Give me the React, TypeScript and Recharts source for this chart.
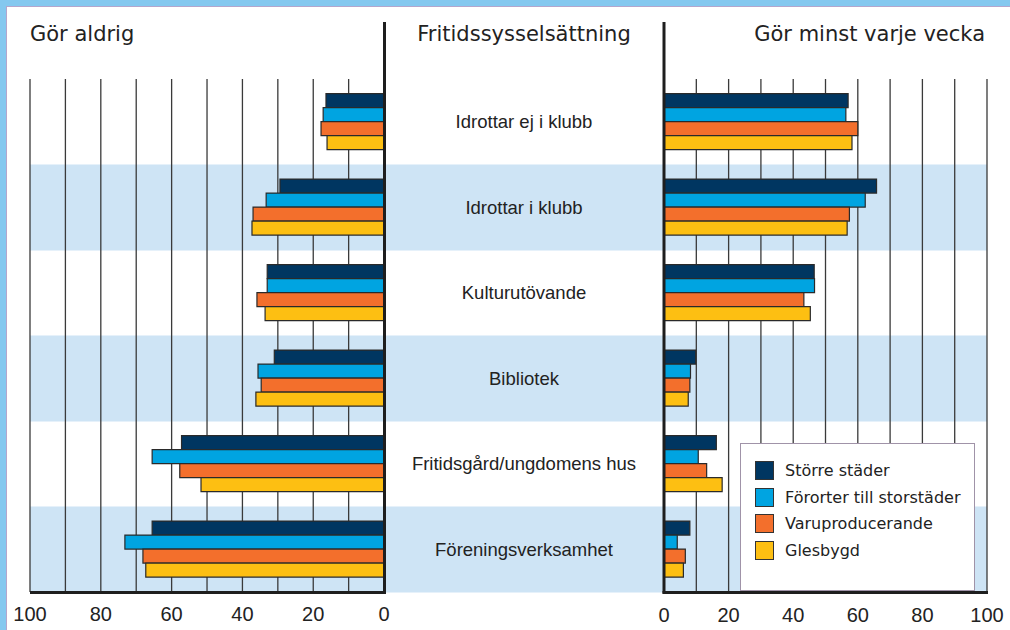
import {
  ComposedChart, Bar, XAxis, YAxis, ReferenceLine,
} from 'recharts'

const CATEGORIES = [
  'Idrottar ej i klubb',
  'Idrottar i klubb',
  'Kulturutövande',
  'Bibliotek',
  'Fritidsgård/ungdomens hus',
  'Föreningsverksamhet',
]
const SERIES_NAMES = ['Större städer', 'Förorter till storstäder', 'Varuproducerande', 'Glesbygd']
const SERIES_COLORS = ['#003661', '#00A4E1', '#F36F2C', '#FDBF12']

// "Gör aldrig" (%)
const NEVER_STORRE = [16.4, 29.4, 33, 31, 57.2, 65.5]
const NEVER_FORORTER = [17.2, 33.3, 33, 35.6, 65.5, 73.2]
const NEVER_VARU = [17.8, 37, 35.9, 34.7, 57.7, 68.1]
const NEVER_GLES = [16.1, 37.3, 33.6, 36.2, 51.7, 67.3]

// "Gör minst varje vecka" (%)
const WEEKLY_STORRE = [57, 65.8, 46.5, 9.8, 16.2, 8]
const WEEKLY_FORORTER = [56.3, 62.3, 46.6, 8.2, 10.6, 4.1]
const WEEKLY_VARU = [60, 57.4, 43.3, 8, 13.2, 6.6]
const WEEKLY_GLES = [58.2, 56.7, 45.3, 7.5, 18, 6]

const GRID_TICKS = [0, 10, 20, 30, 40, 50, 60, 70, 80, 90, 100]
const BANDED = [CATEGORIES[1], CATEGORIES[3], CATEGORIES[5]]

const NEVER = [NEVER_STORRE, NEVER_FORORTER, NEVER_VARU, NEVER_GLES]
const WEEKLY = [WEEKLY_STORRE, WEEKLY_FORORTER, WEEKLY_VARU, WEEKLY_GLES]

const data = CATEGORIES.map((name, i) => {
  const row: Record<string, string | number> = { name, band: BANDED.includes(name) ? 1 : 0 }
  NEVER.forEach((s, k) => { row['n' + k] = s[i] })
  WEEKLY.forEach((s, k) => { row['w' + k] = s[i] })
  return row
})

// both value axes share the full plot width; domains put 0 under each half
const LEFT_DOMAIN = [-170.3, 100]
const RIGHT_DOMAIN = [-196.3, 100]
const CENTER_X = 524
const TEXT = '#222'
const BAND = '#CEE4F5'
const GRID = '#3a3a3a'
const BAR_STROKE = '#2a2a2a'

// plot rect for the layers whose axes are all hidden
const PLAIN_MARGIN = { top: 79, right: 23, bottom: 38, left: 30 }

const tickFmt = (v: number) => (v % 20 === 0 ? String(v) : '')
const axisTick = { fill: TEXT, fontSize: 20, fontFamily: '"Liberation Sans", Arial, sans-serif' }

function CenterTick({ y, payload }: any) {
  return (
    <text x={CENTER_X} y={y} textAnchor="middle" dominantBaseline="central"
      fill={TEXT} fontSize={18.5} fontFamily='"Liberation Sans", Arial, sans-serif'>
      {payload.value}
    </text>
  )
}

function LegendBox() {
  return (
    <div style={{
      position: 'absolute', left: 740, top: 443, width: 233, height: 133,
      border: '1.5px solid #A093A8', background: '#fff', paddingTop: 13, boxSizing: 'content-box',
    }}>
      {SERIES_NAMES.map((name, i) => (
        <div key={name} style={{ display: 'flex', alignItems: 'center', height: 26.7 }}>
          <div style={{
            width: 17, height: 17, marginLeft: 14, background: SERIES_COLORS[i],
            border: '1px solid #333',
          }} />
          <span style={{
            marginLeft: 11, fontFamily: '"DejaVu Sans", sans-serif', fontSize: 16, color: TEXT,
          }}>{name}</span>
        </div>
      ))}
    </div>
  )
}

// layer 1: alternating row bands, one full-width bar per banded category
function BandLayer() {
  return (
    <ComposedChart width={1010} height={630} data={data} layout="vertical"
      margin={PLAIN_MARGIN} barCategoryGap={0} barGap={0}>
      <XAxis type="number" domain={[0, 1]} allowDataOverflow hide />
      <YAxis type="category" dataKey="name" hide />
      <Bar dataKey="band" fill={BAND} stroke="none" legendType="none" isAnimationActive={false} />
    </ComposedChart>
  )
}

// layer 2: vertical grid lines of both halves
function GridLayer() {
  return (
    <ComposedChart width={1010} height={630} data={data} layout="vertical" margin={PLAIN_MARGIN}>
      <XAxis xAxisId="l" type="number" domain={LEFT_DOMAIN} reversed allowDataOverflow hide />
      <XAxis xAxisId="r" type="number" domain={RIGHT_DOMAIN} allowDataOverflow hide />
      <YAxis yAxisId="l" type="category" dataKey="name" hide />
      <YAxis yAxisId="r" type="category" dataKey="name" hide />
      {GRID_TICKS.slice(1).map((v) => (
        <ReferenceLine key={'gl' + v} xAxisId="l" yAxisId="l" x={v} stroke={GRID} strokeWidth={1.3} />
      ))}
      {GRID_TICKS.slice(1).map((v) => (
        <ReferenceLine key={'gr' + v} xAxisId="r" yAxisId="r" x={v} stroke={GRID} strokeWidth={1.3} />
      ))}
    </ComposedChart>
  )
}

export default function App() {
  const titleFont = '"DejaVu Sans", Verdana, sans-serif'
  const layer = { position: 'absolute' as const, left: 0, top: 0 }
  return (
    <div style={{ position: 'absolute', left: 0, top: 0, width: 1010, height: 630, background: '#fff', overflow: 'hidden' }}>
      <div style={{ position: 'absolute', left: 0, top: 0, width: 1010, height: 6, background: '#84C8EF' }} />
      <div style={{ position: 'absolute', left: 0, top: 0, width: 6, height: 630, background: '#84C8EF' }} />
      <div style={{ position: 'absolute', left: 6, top: 6, width: 1004, height: 1, background: '#B4A6CC' }} />
      <div style={{ position: 'absolute', left: 6, top: 6, width: 1, height: 624, background: '#B4A6CC' }} />

      <div style={layer}><BandLayer /></div>
      <div style={layer}><GridLayer /></div>

      <div style={layer}>
        <ComposedChart width={1010} height={630} data={data} layout="vertical"
          margin={{ top: 79, right: 23, bottom: 36, left: 29 }}
          barCategoryGap="17%" barGap={0}>
          <XAxis xAxisId="l" type="number" domain={LEFT_DOMAIN} reversed allowDataOverflow
            ticks={GRID_TICKS} interval={0} tickFormatter={tickFmt} axisLine={false} tickLine={false}
            height={1} tickMargin={9} tick={axisTick} />
          <XAxis xAxisId="r" type="number" domain={RIGHT_DOMAIN} allowDataOverflow
            ticks={GRID_TICKS} interval={0} tickFormatter={tickFmt} axisLine={false} tickLine={false}
            height={1} tickMargin={9} tick={axisTick} />
          <YAxis yAxisId="l" type="category" dataKey="name" width={1} axisLine={false}
            tickLine={false} tick={<CenterTick />} interval={0} />
          <YAxis yAxisId="r" type="category" dataKey="name" hide />
          {SERIES_NAMES.map((name, k) => (
            <Bar key={'n' + k} name={name} xAxisId="l" yAxisId="l" dataKey={'n' + k}
              fill={SERIES_COLORS[k]} stroke={BAR_STROKE} strokeWidth={1.2}
              legendType="none" isAnimationActive={false} />
          ))}
          {SERIES_NAMES.map((name, k) => (
            <Bar key={'w' + k} name={name} xAxisId="r" yAxisId="r" dataKey={'w' + k}
              fill={SERIES_COLORS[k]} stroke={BAR_STROKE} strokeWidth={1.2}
              isAnimationActive={false} />
          ))}
        </ComposedChart>
      </div>

      <svg width={1010} height={630} style={{ position: 'absolute', left: 0, top: 0, pointerEvents: 'none' }}>
        <line x1={384.5} y1={22} x2={384.5} y2={593.5} stroke="#1e1e1e" strokeWidth={3} />
        <line x1={664} y1={22} x2={664} y2={593.5} stroke="#1e1e1e" strokeWidth={3} />
        <line x1={30} y1={592.5} x2={386} y2={592.5} stroke="#1e1e1e" strokeWidth={3} />
        <line x1={662.5} y1={592.5} x2={988} y2={592.5} stroke="#1e1e1e" strokeWidth={3} />
        <text x={30} y={41} fontFamily={titleFont} fontSize={21} fill={TEXT}>Gör aldrig</text>
        <text x={CENTER_X} y={41} fontFamily={titleFont} fontSize={21} fill={TEXT} textAnchor="middle">Fritidssysselsättning</text>
        <text x={985} y={41} fontFamily={titleFont} fontSize={21} fill={TEXT} textAnchor="end">Gör minst varje vecka</text>
      </svg>

      <LegendBox />
    </div>
  )
}
